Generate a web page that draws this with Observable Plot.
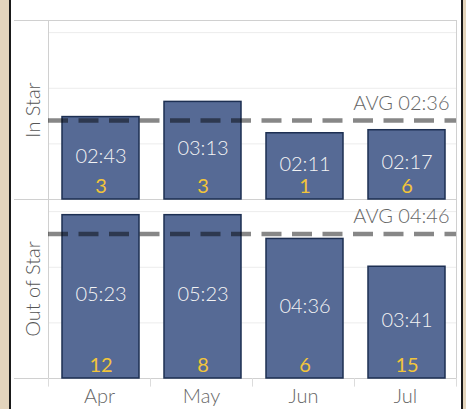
<!DOCTYPE html>
<html>
<head>
<meta charset="utf-8">
<script src="https://cdn.jsdelivr.net/npm/d3@7"></script>
<script src="https://cdn.jsdelivr.net/npm/@observablehq/plot@0.6"></script>
<style>
  html, body { margin: 0; padding: 0; }
  body { width: 466px; height: 409px; background: #e3d4bc; position: relative; overflow: hidden; }
  #panel { position: absolute; left: 9px; top: 0; width: 450px; height: 409px; background: #fff;
           border-left: 2px solid #1a1a1a; border-right: 2px solid #1a1a1a; }
  #chart { position: absolute; left: 0; top: 0; }
</style>
</head>
<body>
<div id="panel"></div>
<div id="chart"></div>
<script>
const months = ["Apr", "May", "Jun", "Jul"];
const rows = ["In Star", "Out of Star"];
const inStarSec = [163, 193, 131, 137];      // 02:43, 03:13, 02:11, 02:17
const outStarSec = [323, 323, 276, 221];     // 05:23, 05:23, 04:36, 03:41
const inStarCount = [3, 3, 1, 6];
const outStarCount = [12, 8, 6, 15];
const avgSec = [156, 286];                   // 02:36, 04:46
const gridTicks = [110, 220, 330];

const fmt = s => String(Math.floor(s / 60)).padStart(2, "0") + ":" + String(Math.round(s % 60)).padStart(2, "0");

const data = [];
months.forEach((m, i) => {
  data.push({month: m, row: rows[0], sec: inStarSec[i], count: inStarCount[i]});
  data.push({month: m, row: rows[1], sec: outStarSec[i], count: outStarCount[i]});
});
const avgs = rows.map((r, i) => ({row: r, sec: avgSec[i]}));

const W = 466, H = 409, mL = 48, mR = 10, mT = 20, mB = 31;
const step = (W - mL - mR) / months.length;
const lineColor = "#d0d0d0";
const bottomRow = rows[1];
const FS = 20;

const plot = Plot.plot({
  width: W, height: H,
  marginLeft: mL, marginRight: mR, marginTop: mT, marginBottom: mB,
  style: {background: "transparent", fontFamily: "Lato, 'Open Sans', sans-serif", fontSize: FS + "px", fontWeight: 300, color: "#666"},
  x: {domain: months, padding: 0, round: false, axis: null},
  y: {domain: [0, 354], axis: null},
  fy: {domain: rows, padding: 0, axis: null},
  marks: [
    Plot.gridY(gridTicks, {stroke: "#ececec", strokeOpacity: 1}),
    Plot.ruleY([0], {stroke: lineColor, insetLeft: -34}),
    Plot.ruleY([354], {stroke: lineColor, insetLeft: -34}),
    Plot.frame({stroke: lineColor}),
    Plot.ruleX(months.map(m => ({m, row: bottomRow})), {x: "m", fy: "row", dx: -step / 2, y1: 0, y2: -17, stroke: "#dcdcdc"}),
    Plot.ruleX([{m: months[months.length - 1], row: bottomRow}], {x: "m", fy: "row", dx: step / 2, y1: 0, y2: -17, stroke: "#dcdcdc"}),
    Plot.barY(data, {x: "month", y: "sec", fy: "row", fill: "#566a95", stroke: "#1d2f52", strokeWidth: 1.5, insetLeft: 14, insetRight: 11}),
    Plot.ruleY(avgs, {y: "sec", fy: "row", stroke: "#000", strokeOpacity: 0.47, strokeWidth: 4.5, strokeDasharray: "20,10.5"}),
    Plot.text(avgs, {y: "sec", fy: "row", text: d => "AVG " + fmt(d.sec), frameAnchor: "right", textAnchor: "end", dx: -7, dy: -17, fill: "#666", fontSize: 20}),
    Plot.text(data, {x: "month", y: d => d.sec / 2, fy: "row", text: d => fmt(d.sec), fill: "#f4f4f4", fontSize: FS, dx: 1.5, dy: -2}),
    Plot.text(data, {x: "month", y: 0, fy: "row", text: d => String(d.count), fill: "#f2c53a", fontSize: FS, fontWeight: 400, dy: -13, dx: 1.5}),
    Plot.text(rows, {fy: d => d, text: d => d, frameAnchor: "left", textAnchor: "middle", lineAnchor: "middle", rotate: -90, dx: -15, fill: "#555", fontSize: 20}),
    Plot.text(months.map(m => ({m, row: bottomRow})), {x: "m", fy: "row", text: "m", frameAnchor: "bottom", lineAnchor: "middle", dy: 18, fill: "#666", fontSize: 20})
  ]
});
document.getElementById("chart").appendChild(plot);
</script>
</body>
</html>
